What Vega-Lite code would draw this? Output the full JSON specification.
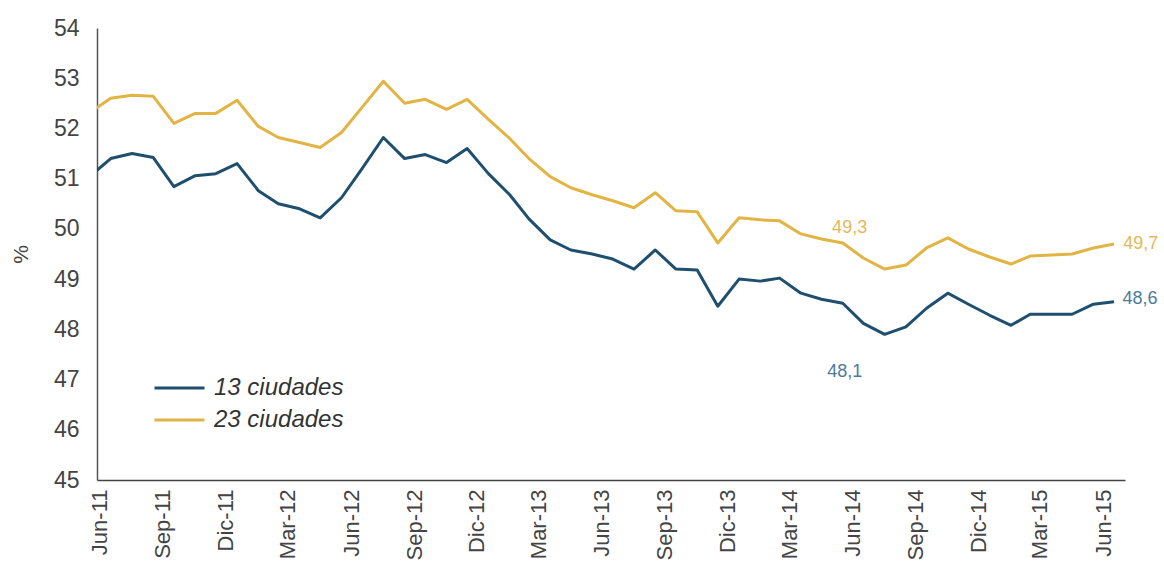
{
  "$schema": "https://vega.github.io/schema/vega-lite/v6.json",
  "width": 1028,
  "height": 452,
  "autosize": {"type": "none"},
  "padding": {"left": 97, "top": 28, "right": 39, "bottom": 89},
  "background": "white",
  "config": {
    "view": {"stroke": null},
    "font": "Liberation Sans",
    "axis": {"grid": false, "ticks": false, "domainColor": "#555555", "domainWidth": 1.5, "labelColor": "#444444"}
  },
  "datasets": {
    "serie": [
      {"fecha": "2011/06/01", "serie": "13 ciudades", "valor": 51.05}, {"fecha": "2011/06/01", "serie": "23 ciudades", "valor": 52.32},
      {"fecha": "2011/07/01", "serie": "13 ciudades", "valor": 51.40}, {"fecha": "2011/07/01", "serie": "23 ciudades", "valor": 52.60},
      {"fecha": "2011/08/01", "serie": "13 ciudades", "valor": 51.50}, {"fecha": "2011/08/01", "serie": "23 ciudades", "valor": 52.66},
      {"fecha": "2011/09/01", "serie": "13 ciudades", "valor": 51.42}, {"fecha": "2011/09/01", "serie": "23 ciudades", "valor": 52.64},
      {"fecha": "2011/10/01", "serie": "13 ciudades", "valor": 50.84}, {"fecha": "2011/10/01", "serie": "23 ciudades", "valor": 52.10},
      {"fecha": "2011/11/01", "serie": "13 ciudades", "valor": 51.06}, {"fecha": "2011/11/01", "serie": "23 ciudades", "valor": 52.30},
      {"fecha": "2011/12/01", "serie": "13 ciudades", "valor": 51.10}, {"fecha": "2011/12/01", "serie": "23 ciudades", "valor": 52.30},
      {"fecha": "2012/01/01", "serie": "13 ciudades", "valor": 51.30}, {"fecha": "2012/01/01", "serie": "23 ciudades", "valor": 52.56},
      {"fecha": "2012/02/01", "serie": "13 ciudades", "valor": 50.76}, {"fecha": "2012/02/01", "serie": "23 ciudades", "valor": 52.04},
      {"fecha": "2012/03/01", "serie": "13 ciudades", "valor": 50.50}, {"fecha": "2012/03/01", "serie": "23 ciudades", "valor": 51.82},
      {"fecha": "2012/04/01", "serie": "13 ciudades", "valor": 50.40}, {"fecha": "2012/04/01", "serie": "23 ciudades", "valor": 51.72},
      {"fecha": "2012/05/01", "serie": "13 ciudades", "valor": 50.22}, {"fecha": "2012/05/01", "serie": "23 ciudades", "valor": 51.62},
      {"fecha": "2012/06/01", "serie": "13 ciudades", "valor": 50.62}, {"fecha": "2012/06/01", "serie": "23 ciudades", "valor": 51.92},
      {"fecha": "2012/07/01", "serie": "13 ciudades", "valor": 51.20}, {"fecha": "2012/07/01", "serie": "23 ciudades", "valor": 52.42},
      {"fecha": "2012/08/01", "serie": "13 ciudades", "valor": 51.82}, {"fecha": "2012/08/01", "serie": "23 ciudades", "valor": 52.94},
      {"fecha": "2012/09/01", "serie": "13 ciudades", "valor": 51.40}, {"fecha": "2012/09/01", "serie": "23 ciudades", "valor": 52.50},
      {"fecha": "2012/10/01", "serie": "13 ciudades", "valor": 51.48}, {"fecha": "2012/10/01", "serie": "23 ciudades", "valor": 52.58},
      {"fecha": "2012/11/01", "serie": "13 ciudades", "valor": 51.32}, {"fecha": "2012/11/01", "serie": "23 ciudades", "valor": 52.38},
      {"fecha": "2012/12/01", "serie": "13 ciudades", "valor": 51.60}, {"fecha": "2012/12/01", "serie": "23 ciudades", "valor": 52.58},
      {"fecha": "2013/01/01", "serie": "13 ciudades", "valor": 51.10}, {"fecha": "2013/01/01", "serie": "23 ciudades", "valor": 52.18},
      {"fecha": "2013/02/01", "serie": "13 ciudades", "valor": 50.68}, {"fecha": "2013/02/01", "serie": "23 ciudades", "valor": 51.80},
      {"fecha": "2013/03/01", "serie": "13 ciudades", "valor": 50.20}, {"fecha": "2013/03/01", "serie": "23 ciudades", "valor": 51.40},
      {"fecha": "2013/04/01", "serie": "13 ciudades", "valor": 49.78}, {"fecha": "2013/04/01", "serie": "23 ciudades", "valor": 51.04},
      {"fecha": "2013/05/01", "serie": "13 ciudades", "valor": 49.58}, {"fecha": "2013/05/01", "serie": "23 ciudades", "valor": 50.82},
      {"fecha": "2013/06/01", "serie": "13 ciudades", "valor": 49.50}, {"fecha": "2013/06/01", "serie": "23 ciudades", "valor": 50.68},
      {"fecha": "2013/07/01", "serie": "13 ciudades", "valor": 49.40}, {"fecha": "2013/07/01", "serie": "23 ciudades", "valor": 50.56},
      {"fecha": "2013/08/01", "serie": "13 ciudades", "valor": 49.20}, {"fecha": "2013/08/01", "serie": "23 ciudades", "valor": 50.42},
      {"fecha": "2013/09/01", "serie": "13 ciudades", "valor": 49.58}, {"fecha": "2013/09/01", "serie": "23 ciudades", "valor": 50.72},
      {"fecha": "2013/10/01", "serie": "13 ciudades", "valor": 49.20}, {"fecha": "2013/10/01", "serie": "23 ciudades", "valor": 50.36},
      {"fecha": "2013/11/01", "serie": "13 ciudades", "valor": 49.18}, {"fecha": "2013/11/01", "serie": "23 ciudades", "valor": 50.34},
      {"fecha": "2013/12/01", "serie": "13 ciudades", "valor": 48.46}, {"fecha": "2013/12/01", "serie": "23 ciudades", "valor": 49.72},
      {"fecha": "2014/01/01", "serie": "13 ciudades", "valor": 49.00}, {"fecha": "2014/01/01", "serie": "23 ciudades", "valor": 50.22},
      {"fecha": "2014/02/01", "serie": "13 ciudades", "valor": 48.96}, {"fecha": "2014/02/01", "serie": "23 ciudades", "valor": 50.18},
      {"fecha": "2014/03/01", "serie": "13 ciudades", "valor": 49.02}, {"fecha": "2014/03/01", "serie": "23 ciudades", "valor": 50.16},
      {"fecha": "2014/04/01", "serie": "13 ciudades", "valor": 48.72}, {"fecha": "2014/04/01", "serie": "23 ciudades", "valor": 49.90},
      {"fecha": "2014/05/01", "serie": "13 ciudades", "valor": 48.60}, {"fecha": "2014/05/01", "serie": "23 ciudades", "valor": 49.80},
      {"fecha": "2014/06/01", "serie": "13 ciudades", "valor": 48.52}, {"fecha": "2014/06/01", "serie": "23 ciudades", "valor": 49.72},
      {"fecha": "2014/07/01", "serie": "13 ciudades", "valor": 48.12}, {"fecha": "2014/07/01", "serie": "23 ciudades", "valor": 49.42},
      {"fecha": "2014/08/01", "serie": "13 ciudades", "valor": 47.90}, {"fecha": "2014/08/01", "serie": "23 ciudades", "valor": 49.20},
      {"fecha": "2014/09/01", "serie": "13 ciudades", "valor": 48.05}, {"fecha": "2014/09/01", "serie": "23 ciudades", "valor": 49.28},
      {"fecha": "2014/10/01", "serie": "13 ciudades", "valor": 48.42}, {"fecha": "2014/10/01", "serie": "23 ciudades", "valor": 49.62},
      {"fecha": "2014/11/01", "serie": "13 ciudades", "valor": 48.72}, {"fecha": "2014/11/01", "serie": "23 ciudades", "valor": 49.82},
      {"fecha": "2014/12/01", "serie": "13 ciudades", "valor": 48.50}, {"fecha": "2014/12/01", "serie": "23 ciudades", "valor": 49.60},
      {"fecha": "2015/01/01", "serie": "13 ciudades", "valor": 48.28}, {"fecha": "2015/01/01", "serie": "23 ciudades", "valor": 49.44},
      {"fecha": "2015/02/01", "serie": "13 ciudades", "valor": 48.08}, {"fecha": "2015/02/01", "serie": "23 ciudades", "valor": 49.30},
      {"fecha": "2015/03/01", "serie": "13 ciudades", "valor": 48.30}, {"fecha": "2015/03/01", "serie": "23 ciudades", "valor": 49.46},
      {"fecha": "2015/04/01", "serie": "13 ciudades", "valor": 48.30}, {"fecha": "2015/04/01", "serie": "23 ciudades", "valor": 49.48},
      {"fecha": "2015/05/01", "serie": "13 ciudades", "valor": 48.30}, {"fecha": "2015/05/01", "serie": "23 ciudades", "valor": 49.50},
      {"fecha": "2015/06/01", "serie": "13 ciudades", "valor": 48.50}, {"fecha": "2015/06/01", "serie": "23 ciudades", "valor": 49.62},
      {"fecha": "2015/07/01", "serie": "13 ciudades", "valor": 48.55}, {"fecha": "2015/07/01", "serie": "23 ciudades", "valor": 49.70}
    ],
    "etiquetas": [
      {"fecha": "2014/06/11", "serie": "23 ciudades", "valor": 50.02, "texto": "49,3"},
      {"fecha": "2014/06/04", "serie": "13 ciudades", "valor": 47.16, "texto": "48,1"},
      {"fecha": "2015/08/09", "serie": "23 ciudades", "valor": 49.70, "texto": "49,7"},
      {"fecha": "2015/08/08", "serie": "13 ciudades", "valor": 48.60, "texto": "48,6"}
    ]
  },
  "layer": [
    {
      "data": {"name": "serie"},
      "mark": {"type": "line", "strokeWidth": 3, "clip": true, "strokeJoin": "round"},
      "encoding": {
        "x": {
          "field": "fecha", "type": "temporal",
          "scale": {"domain": [{"year": 2011, "month": 6, "date": 11}, {"year": 2015, "month": 7, "date": 17}]},
          "axis": {
            "title": null,
            "values": [
              {"year": 2011, "month": 6, "date": 15}, {"year": 2011, "month": 9, "date": 15}, {"year": 2011, "month": 12, "date": 15},
              {"year": 2012, "month": 3, "date": 15}, {"year": 2012, "month": 6, "date": 15}, {"year": 2012, "month": 9, "date": 15}, {"year": 2012, "month": 12, "date": 15},
              {"year": 2013, "month": 3, "date": 15}, {"year": 2013, "month": 6, "date": 15}, {"year": 2013, "month": 9, "date": 15}, {"year": 2013, "month": 12, "date": 15},
              {"year": 2014, "month": 3, "date": 15}, {"year": 2014, "month": 6, "date": 15}, {"year": 2014, "month": 9, "date": 15}, {"year": 2014, "month": 12, "date": 15},
              {"year": 2015, "month": 3, "date": 15}, {"year": 2015, "month": 6, "date": 15}
            ],
            "labelExpr": "['Ene','Feb','Mar','Abr','May','Jun','Jul','Ago','Sep','Oct','Nov','Dic'][month(datum.value)] + '-' + timeFormat(datum.value, '%y')",
            "labelAngle": -90,
            "labelFontSize": 22,
            "labelPadding": 9,
            "domainColor": "#444444"
          }
        },
        "y": {
          "field": "valor", "type": "quantitative",
          "scale": {"domain": [45, 54], "nice": false, "zero": false},
          "axis": {
            "values": [45, 46, 47, 48, 49, 50, 51, 52, 53, 54],
            "title": "%",
            "titleFontSize": 21,
            "titleFontWeight": "normal",
            "titleColor": "#444444",
            "titlePadding": 22,
            "labelFontSize": 23,
            "labelPadding": 18
          }
        },
        "color": {
          "field": "serie", "type": "nominal",
          "scale": {"domain": ["13 ciudades", "23 ciudades"], "range": ["#1f4f6e", "#e2b443"]},
          "legend": {
            "orient": "none",
            "legendX": 56,
            "legendY": 346,
            "title": null,
            "symbolType": "stroke",
            "symbolSize": 2500,
            "symbolStrokeWidth": 3,
            "labelFontSize": 24,
            "labelFontStyle": "italic",
            "labelColor": "#333333",
            "labelOffset": 8,
            "clipHeight": 28,
            "rowPadding": 4
          }
        }
      }
    },
    {
      "data": {"name": "etiquetas"},
      "mark": {"type": "text", "fontSize": 18, "align": "center", "baseline": "middle"},
      "encoding": {
        "x": {"field": "fecha", "type": "temporal"},
        "y": {"field": "valor", "type": "quantitative"},
        "text": {"field": "texto"},
        "color": {
          "field": "serie", "type": "nominal",
          "scale": {"domain": ["13 ciudades", "23 ciudades"], "range": ["#4d7a99", "#e3b85a"]},
          "legend": null
        }
      }
    }
  ],
  "resolve": {"scale": {"color": "independent"}}
}
